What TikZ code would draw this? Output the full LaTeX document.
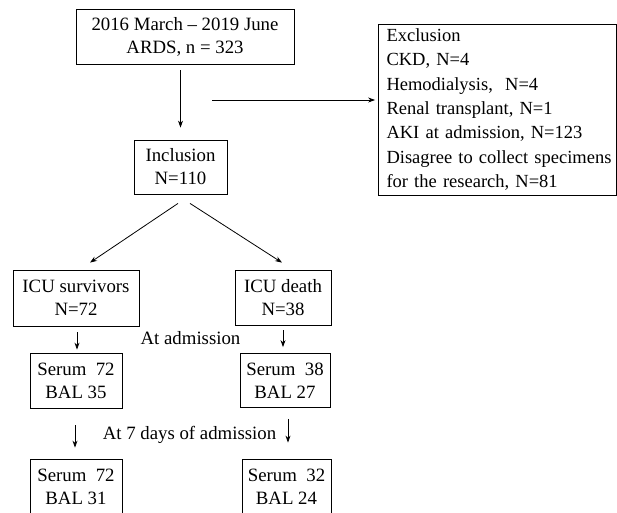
\documentclass[tikz,border=0pt]{standalone}
\usepackage{fontspec}
\setmainfont{Liberation Serif}
\usetikzlibrary{arrows.meta}
\tikzset{
  box/.style={draw=black, line width=0.8pt, inner sep=0pt, align=center,
    font=\fontsize{18.8}{23}\selectfont},
  lbl/.style={inner sep=0pt, font=\fontsize{18.8}{23}\selectfont},
  arr/.style={line width=0.8pt, -{Stealth[length=7pt,width=5pt]}},
}
\begin{document}
\begin{tikzpicture}[x=1pt,y=-1pt]
\clip (0,0) rectangle (617,512);
\fill[white] (0,0) rectangle (617,512);
% top
\node[box, minimum width=218, minimum height=55] (top) at (185,36.5)
  {2016 March -- 2019 June\\ARDS, n = 323};
\node[box, minimum width=93, minimum height=54] (incl) at (180.5,167)
  {Inclusion\\N=110};
\node[box, minimum width=238, minimum height=171, align=left,
  font=\fontsize{18.5}{24.4}\selectfont, text width=222, inner xsep=8pt,
  inner sep=0pt] (excl) at (497.5,109.5)
  {Exclusion\\CKD, N=4\\Hemodialysis,~ N=4\\Renal transplant, N=1\\AKI at admission, N=123\\\mbox{Disagree to collect specimens}\\for the research, N=81};
\coordinate (hstart) at (212,100);
% ICU
\node[box, minimum width=126, minimum height=56] (surv) at (76,298)
  {ICU survivors\\N=72};
\node[box, minimum width=96, minimum height=55] (death) at (283,297.5)
  {ICU death\\N=38};
% samples at admission
\node[box, minimum width=92, minimum height=55] (s1) at (76,380.5)
  {Serum~ 72\\BAL 35};
\node[box, minimum width=90, minimum height=54] (d1) at (285,380.5)
  {Serum~ 38\\BAL 27};
% at 7 days
\node[box, minimum width=92, minimum height=56] (s2) at (76,487)
  {Serum~ 72\\BAL 31};
\node[box, minimum width=89, minimum height=56] (d2) at (286.5,487)
  {Serum~ 32\\BAL 24};
% labels
\node[lbl] (adm) at (190.5,338) {At admission};
\node[lbl] (seven) at (189.5,435) {At 7 days of admission};
% connectors
\draw[arr, shorten <=6pt, shorten >=12pt] (incl.north |- top.south) -- (incl.north);
\draw[arr, shorten >=3pt] (hstart) -- (excl.west |- hstart);
\draw[arr] ([xshift=-2.5pt,yshift=-9pt]incl.south) -- ([xshift=14pt,yshift=7pt]surv.north);
\draw[arr] ([xshift=9.5pt,yshift=-9pt]incl.south) -- ([xshift=-1pt,yshift=7pt]death.north);
\draw[arr] ([xshift=1pt,yshift=-6pt]surv.south) -- ([xshift=1pt,yshift=3pt]s1.north);
\draw[arr] ([yshift=-5pt]death.south) -- ([xshift=-2pt,yshift=6pt]d1.north);
\draw[arr] ([xshift=-1pt,yshift=-17pt]s1.south) -- ([xshift=-1pt,yshift=11pt]s2.north);
\draw[arr] ([xshift=3pt,yshift=-11pt]d1.south) -- ([xshift=1.5pt,yshift=16pt]d2.north);
\end{tikzpicture}
\end{document}
